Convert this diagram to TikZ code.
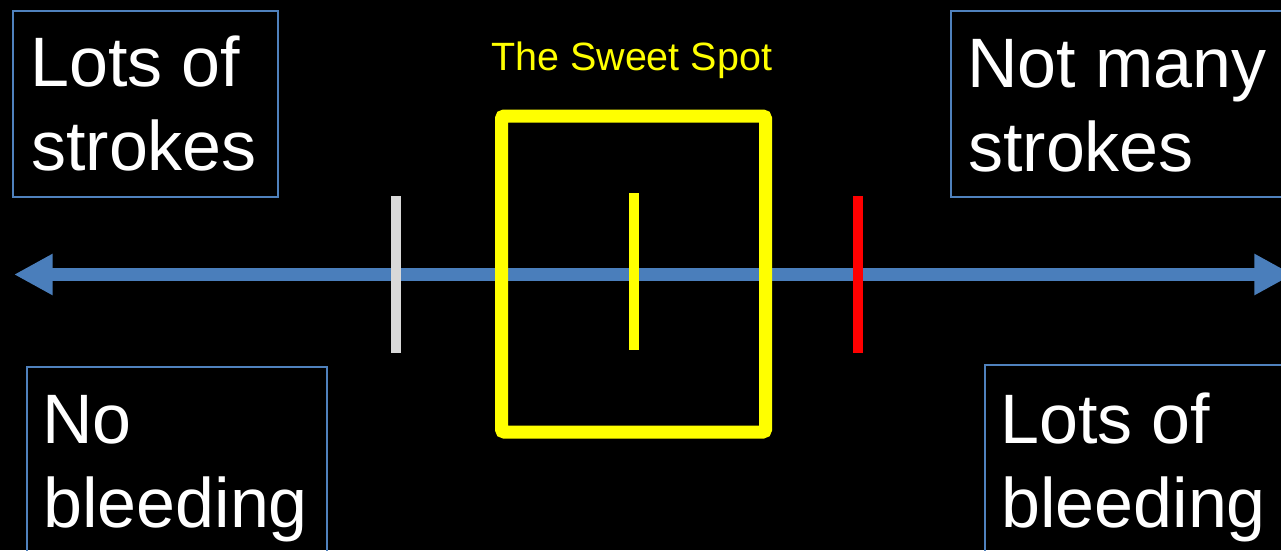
\documentclass[tikz,border=0pt]{standalone}
\usepackage{fontspec}
\setmainfont{Liberation Sans}
\usetikzlibrary{arrows.meta}
\definecolor{axisblue}{HTML}{4A7EBB}
\definecolor{boxblue}{HTML}{4F81BD}
\definecolor{tickgray}{HTML}{D9D9D9}
\definecolor{sweetyellow}{HTML}{FFFF00}
\begin{document}
\begin{tikzpicture}[x=0.75pt,y=-0.75pt,
  labelbox/.style={draw=boxblue,line width=1.1pt},
  bigtext/.style={text=white,inner sep=0pt,anchor=base west,font=\fontsize{52.5}{63}\selectfont},
  axisline/.style={draw=axisblue,line width=9.75pt,{Triangle[length=29pt,width=29pt]}-{Triangle[length=29pt,width=29pt]}},
  marker/.style={line width=7.5pt},
  sweetbox/.style={draw=sweetyellow,line width=9.75pt,rounded corners=2pt}
]
\fill[black] (0,0) rectangle (1281,550);
\useasboundingbox (0,0) rectangle (1281,550);
\begin{scope}
\clip (0,0) rectangle (1281,550);
% label boxes
\draw[labelbox] (13,11) coordinate (b1a) rectangle (278,197) coordinate (b1b);
\draw[labelbox] (951,11) coordinate (b2a) rectangle (1300,197) coordinate (b2b);
\draw[labelbox] (27,367) coordinate (b3a) rectangle (327,570) coordinate (b3b);
\draw[labelbox] (985,365) coordinate (b4a) rectangle (1300,570) coordinate (b4b);
\node[bigtext] (t1a) at (30,86) {Lots of};
\node[bigtext] (t1b) at (31,170) {strokes};
\node[bigtext] (t2a) at (967,87) {Not many};
\node[bigtext] (t2b) at (968,171) {strokes};
\node[bigtext] (t3a) at (42,443) {No};
\node[bigtext] (t3b) at (43,527) {bleeding};
\node[bigtext] (t4a) at (1000,443) {Lots of};
\node[bigtext] (t4b) at (1001,527) {bleeding};
% axis
\coordinate (axL) at (14,274.5);
\coordinate (axR) at (1293,274.5);
\draw[axisline] (axL) -- (axR);
% markers
\coordinate (g1) at (396,196); \coordinate (g2) at (396,353);
\draw[marker,tickgray] (g1) -- (g2);
\coordinate (r1) at (858,196); \coordinate (r2) at (858,353);
\draw[marker,red] (r1) -- (r2);
\coordinate (y1) at (634,193); \coordinate (y2) at (634,350);
\draw[marker,sweetyellow] (y1) -- (y2);
% sweet spot box
\draw[sweetbox] (501.5,116) coordinate (sa) rectangle (765.5,432) coordinate (sb);
\node[text=sweetyellow,inner sep=0pt,anchor=base west,font=\fontsize{29.6}{35}\selectfont] (sweet) at (491,70) {The Sweet Spot};
\end{scope}
\end{tikzpicture}
\end{document}
